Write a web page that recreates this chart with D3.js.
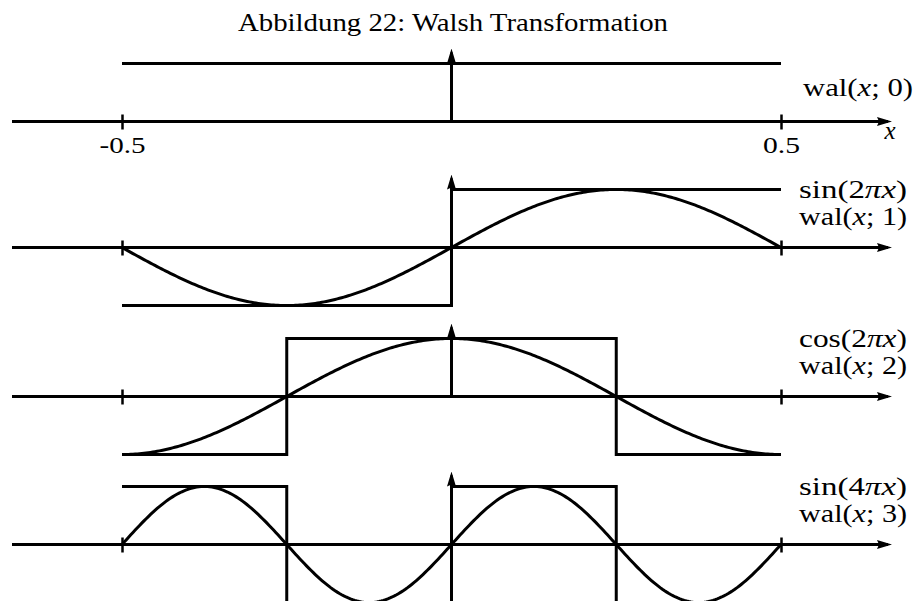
<!DOCTYPE html>
<html>
<head>
<meta charset="utf-8">
<script src="https://cdn.jsdelivr.net/npm/d3@7"></script>
<style>
  html, body { margin: 0; padding: 0; background: #fff; }
  svg { display: block; }
  text { font-family: "Liberation Serif", "Times New Roman", serif; fill: #000; }
</style>
</head>
<body>
<svg id="chart" width="914" height="601"></svg>
<script>
// Walsh functions wal(x; n) on [-0.5, 0.5] with the matching sine / cosine
const chartTitle = "Abbildung 22: Walsh Transformation";
const tickValues = [-0.5, 0.5];
const tickLabels = ["-0.5", "0.5"];
const axisLabel = "x";
const walshOrder = [0, 1, 2, 3];
// Levels of wal(x; n) on equal sub-intervals of [-0.5, 0.5], left to right
const walshLevels = [
  [1],
  [-1, 1],
  [-1, 1, 1, -1],
  [1, -1, 1, -1]
];
const walshLabels = ["wal(x; 0)", "wal(x; 1)", "wal(x; 2)", "wal(x; 3)"];
// Trigonometric companion of each Walsh function: name and multiple of π
const trigNames = [null, "sin", "cos", "sin"];
const trigFactors = [0, 2, 2, 4];
const trigLabels = ["", "sin(2πx)", "cos(2πx)", "sin(4πx)"];

const svg = d3.select("#chart");

// Layout of the four stacked panels
const axisYs = [121.5, 247.5, 396.5, 544.5];
const amp = 58;
const axisStartX = 12, axisEndX = 892;
const labelRight = [913, 907, 907, 907];

const x = d3.scaleLinear().domain([-0.5, 0.5]).range([122, 781]);

// Arrow head marker
const defs = svg.append("defs");
defs.append("marker")
  .attr("id", "arrow")
  .attr("viewBox", "0 0 15 10")
  .attr("refX", 15).attr("refY", 5)
  .attr("markerWidth", 15).attr("markerHeight", 10)
  .attr("markerUnits", "userSpaceOnUse")
  .attr("orient", "auto")
  .append("path").attr("d", "M0,0.5 L15,5 L0,9.5 L2,5 Z").attr("fill", "#000");

// Title
svg.append("text")
  .attr("x", 453).attr("y", 31)
  .attr("text-anchor", "middle")
  .attr("font-size", 25)
  .attr("textLength", 430)
  .attr("lengthAdjust", "spacingAndGlyphs")
  .text(chartTitle);

// Math label helper: x and π set in italics
function mathText(sel, str) {
  for (const ch of str) {
    sel.append("tspan")
      .attr("font-style", (ch === "x" || ch === "π") ? "italic" : null)
      .text(ch);
  }
}

walshOrder.forEach((n, i) => {
  const ay = axisYs[i];
  const y = d3.scaleLinear().domain([-1, 1]).range([ay + amp, ay - amp]);
  const g = svg.append("g");

  // Horizontal axis with arrow
  g.append("line")
    .attr("x1", axisStartX).attr("x2", axisEndX - 4)
    .attr("y1", y(0)).attr("y2", y(0))
    .attr("stroke", "#000").attr("stroke-width", 3);
  g.append("line")
    .attr("x1", axisEndX - 6).attr("x2", axisEndX)
    .attr("y1", y(0)).attr("y2", y(0))
    .attr("stroke", "none")
    .attr("marker-end", "url(#arrow)");

  // Vertical axis with arrow at x = 0
  const tipY = y(1) - 15;
  g.append("line")
    .attr("x1", x(0)).attr("x2", x(0))
    .attr("y1", y(0)).attr("y2", tipY + 4)
    .attr("stroke", "#000").attr("stroke-width", 3);
  g.append("line")
    .attr("x1", x(0)).attr("x2", x(0))
    .attr("y1", tipY + 6).attr("y2", tipY)
    .attr("stroke", "none")
    .attr("marker-end", "url(#arrow)");

  // Ticks at ±0.5 crossing the axis
  const ax = d3.axisBottom(x)
    .tickValues(tickValues)
    .tickFormat((d, k) => tickLabels[k])
    .tickSizeOuter(0);
  const axG = g.append("g")
    .attr("transform", `translate(0,${ay})`)
    .call(ax);
  axG.select(".domain").remove();
  axG.selectAll(".tick line")
    .attr("y1", -7).attr("y2", 8)
    .attr("stroke", "#000").attr("stroke-width", 2.5);
  if (i === 0) {
    axG.selectAll(".tick text")
      .attr("y", 31).attr("dy", null)
      .attr("font-size", 23)
      .attr("font-family", "Liberation Serif, serif")
      .attr("fill", "#000")
      .attr("textLength", (d, k) => k === 0 ? 46 : 37)
      .attr("lengthAdjust", "spacingAndGlyphs");
    // x axis name
    const xl = svg.append("text")
      .attr("x", 890).attr("y", ay + 17)
      .attr("text-anchor", "middle")
      .attr("font-size", 25);
    mathText(xl, axisLabel);
  } else {
    axG.selectAll(".tick text").remove();
  }

  // Trigonometric curve
  if (trigNames[i]) {
    const f = trigNames[i] === "sin" ? Math.sin : Math.cos;
    const k = trigFactors[i];
    const xs = d3.range(0, 301).map(j => -0.5 + j / 300);
    g.append("path")
      .attr("d", d3.line().x(d => x(d)).y(d => y(f(k * Math.PI * d)))(xs))
      .attr("fill", "none").attr("stroke", "#000").attr("stroke-width", 3);
  }

  // Walsh step function
  const lev = walshLevels[i];
  const pts = lev.map((v, j) => [-0.5 + j / lev.length, v]);
  pts.push([0.5, lev[lev.length - 1]]);
  g.append("path")
    .attr("d", d3.line().x(d => x(d[0])).y(d => y(d[1])).curve(d3.curveStepAfter)(pts))
    .attr("fill", "none").attr("stroke", "#000").attr("stroke-width", 3)
    .attr("stroke-linejoin", "miter").attr("stroke-linecap", "butt");

  // Right-hand labels
  if (trigLabels[i]) {
    const t = svg.append("text")
      .attr("x", labelRight[i]).attr("y", ay - 50)
      .attr("text-anchor", "end").attr("font-size", 25)
      .attr("textLength", 108).attr("lengthAdjust", "spacingAndGlyphs");
    mathText(t, trigLabels[i]);
  }
  const wl = svg.append("text")
    .attr("x", labelRight[i]).attr("y", ay - (i === 0 ? 26 : 22.5))
    .attr("text-anchor", "end").attr("font-size", 25)
    .attr("textLength", i === 0 ? 110 : 108).attr("lengthAdjust", "spacingAndGlyphs");
  mathText(wl, walshLabels[i]);
});
</script>
</body>
</html>
